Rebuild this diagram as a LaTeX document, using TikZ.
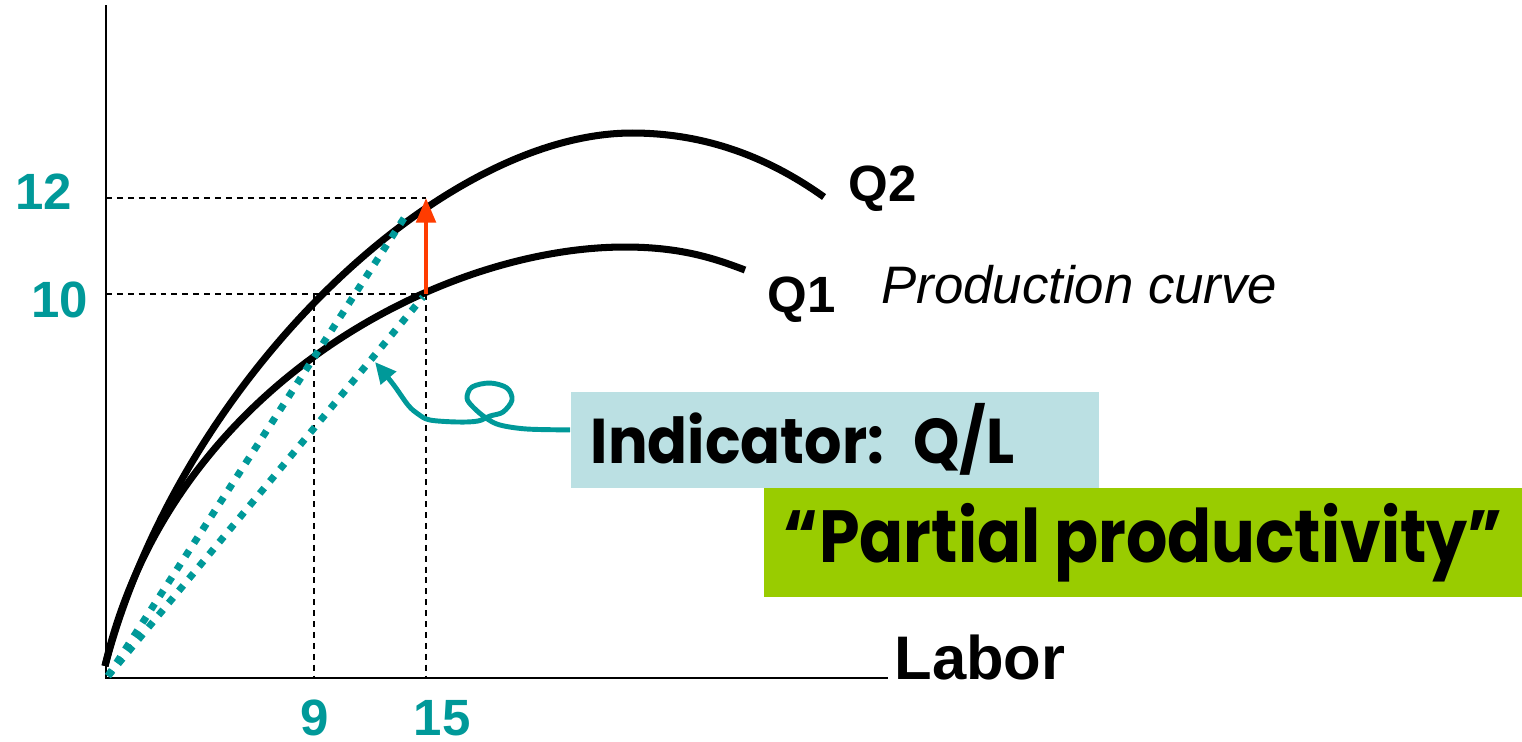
\documentclass[tikz,border=0pt]{standalone}
\usepackage{fontspec}
\setmainfont{Liberation Sans}
\newfontfamily\boxfont{Poppins}
\usepackage{xcolor}
\usepackage{graphicx}
\usepackage{tikz}
\usetikzlibrary{arrows.meta, positioning, calc}
\definecolor{tealmark}{RGB}{0, 153, 153}
\definecolor{arrowred}{RGB}{255, 60, 0}
\definecolor{indicatorblue}{RGB}{187, 224, 227}
\definecolor{partialgreen}{RGB}{153, 204, 0}

\tikzset{
  prodcurve/.style={line width=2pt, black},
  guide/.style={line width=0.4pt, dash pattern=on 1.7pt off 1.4pt},
  chord/.style={line width=2pt, tealmark, dash pattern=on 2pt off 2.5pt},
  ticklabel/.style={text=tealmark, font=\fontsize{14.5}{16}\selectfont\bfseries},
  curvelabel/.style={anchor=west, font=\fontsize{14.5}{16}\selectfont\bfseries},
}

\begin{document}
\begin{tikzpicture}[x=0.01cm, y=-0.01cm]
        \useasboundingbox (0,0) rectangle (1522,741);

        % Axes
        \coordinate (origin) at (106,678);
        \coordinate (ytop) at (106,5);
        \coordinate (xend) at (888,678);
        \draw[line width=0.6pt] (ytop) -- (origin) -- (xend);

        % Reference points
        \coordinate (y12) at (106,198);
        \coordinate (y10) at (106,294);
        \coordinate (q2at9) at (314,294);
        \coordinate (q2at15) at (426,198);
        \coordinate (q1at15) at (426,294);
        \coordinate (x9) at (314,678);
        \coordinate (x15) at (426,678);

        % Dashed guides
        \draw[guide] (y12) -- (q2at15);
        \draw[guide] (y10) -- (q1at15);
        \draw[guide] (q2at9) -- (x9);
        \draw[guide] (q1at15) -- (x15);

        % Production curves
        \draw[prodcurve] (105,666) .. controls (180,380) and (440,133) .. (632,133)
            .. controls (712,133) and (775,162) .. (824,197);
        \draw[prodcurve] (105,666) .. controls (170,388) and (440,247) .. (625,247)
            .. controls (682,247) and (716,259) .. (745,270);

        % Q/L chords
        \coordinate (chordstart) at (108,676);
        \coordinate (chordtwo) at (408,212);
        \coordinate (chordone) at (423,297);
        \draw[chord] (chordstart) -- (chordtwo);
        \draw[chord] (chordstart) -- (chordone);

        % Shift arrow
        \draw[-{Triangle[length=7pt, width=5.5pt]}, line width=1.2pt, arrowred] (q1at15) -- (q2at15);

        % Axis labels
        \node[ticklabel] (lab12) at (44,192) {12};
        \node[ticklabel] (lab10) at (60,300) {10};
        \node[ticklabel] (lab9) at (315,718) {9};
        \node[ticklabel] (lab15) at (442,718) {15};
        \node[curvelabel] (q2label) at (836,189) {Q2};
        \node[curvelabel] (q1label) at (755,300) {Q1};
        \node[anchor=west, font=\fontsize{15}{17}\selectfont\itshape] (prodlabel) at (869,285) {Production curve};
        \node[anchor=west, font=\fontsize{17.5}{20}\selectfont\bfseries] (laborlabel) at (882,657) {Labor};

        % Indicator Box
        \node[fill=indicatorblue, anchor=north west, minimum width=5.28cm, minimum height=0.96cm,
              text width=4.88cm, inner xsep=0.2cm, align=left,
              font=\boxfont\bfseries\fontsize{18}{20}\selectfont] (indicator) at (570,391)
              {\scalebox{0.93}[1]{Indicator: Q/L}};

        % Partial productivity Box
        \node[fill=partialgreen, anchor=north west, minimum width=7.59cm, minimum height=1.09cm,
              font=\boxfont\bfseries\fontsize{21}{24}\selectfont] (partial) at (763,487)
              {\scalebox{0.88}[1]{“Partial productivity”}};

        % Pointer squiggle
        \coordinate (pointer) at (375,362);
        \draw[tealmark, line width=1.4pt, -{Triangle[length=6pt, width=5.5pt]}]
            plot[smooth, tension=0.55] coordinates {([yshift=2.8pt]indicator.west) (527,429) (500,425)
            (486,418) (473,407) (467,398) (472,387) (490,383) (507,388) (512,400) (503,412)
            (490,416) (478,421) (458,422) (430,420) (418,414) (408,405) (393,384) (pointer)};
\end{tikzpicture}
\end{document}
